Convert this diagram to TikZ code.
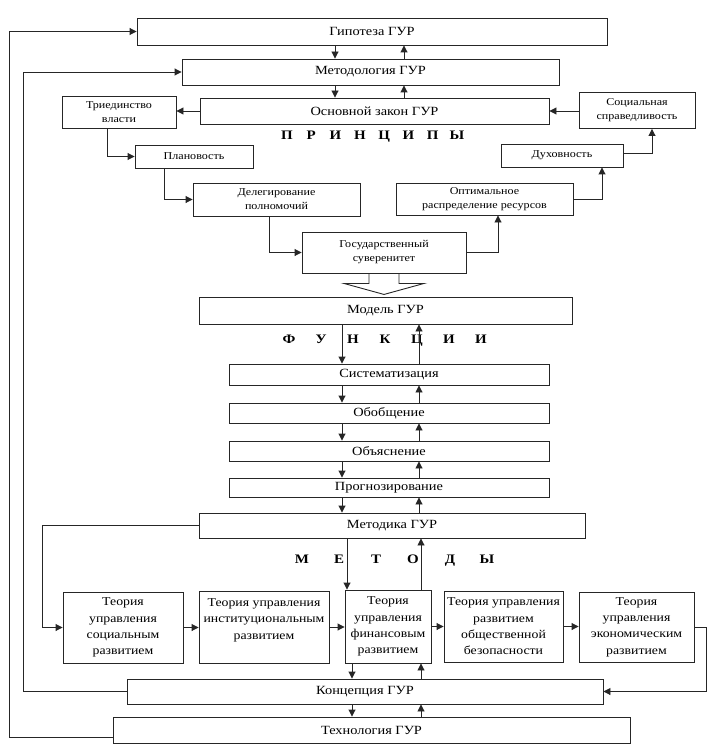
\documentclass[tikz,border=0pt]{standalone}
\usepackage{fontspec}
\setmainfont[FakeStretch=1.15]{Liberation Serif}
\usetikzlibrary{arrows.meta,calc}
\newcommand\lb[2]{\makebox[#1]{#2}}
\begin{document}
\begin{tikzpicture}[x=1pt,y=-1pt,
  bx/.style={draw=black!85, line width=0.9pt, inner sep=1pt, align=center, font=\fontsize{12.5}{14}\selectfont},
  pbx/.style={bx, font=\fontsize{10.5}{14}\selectfont},
  tbx/.style={bx, font=\fontsize{12}{16.3}\selectfont},
  arr/.style={draw=black!85, line width=0.9pt, -{Triangle[length=7pt,width=7pt]}},
  ln/.style={draw=black!85, line width=0.9pt},
  sp/.style={inner sep=0pt, font=\bfseries\fontsize{13}{15}\selectfont}]
\useasboundingbox (0,0) rectangle (715,754);
% column coordinates
\coordinate (XD1) at (335,0);
\coordinate (XU1) at (404,0);
\coordinate (XD2) at (342,0);
\coordinate (XU2) at (419,0);
\coordinate (XD3) at (347,0);
\coordinate (XU3) at (421,0);
\coordinate (XD4) at (352,0);
\coordinate (L1) at (9,0);
\coordinate (L2) at (23,0);
\coordinate (L3) at (42,0);
\coordinate (R1) at (706,0);
% boxes
\node[bx, minimum width=470pt, minimum height=27pt] (hyp) at (372,31.5) {Гипотеза ГУР};
\node[bx, minimum width=377pt, minimum height=26pt] (meth) at (370.5,72) {Методология ГУР};
\node[bx, minimum width=349pt, minimum height=26pt] (law) at (374.5,111) {Основной закон ГУР};
\node[pbx, minimum width=114pt, minimum height=32pt] (tri) at (119,112) {Триединство\\власти};
\node[pbx, minimum width=116pt, minimum height=36pt] (soc) at (637,110.5) {Социальная\\справедливость};
\node[pbx, minimum width=118pt, minimum height=23pt] (plan) at (194,156.5) {Плановость};
\node[pbx, minimum width=122pt, minimum height=23pt] (dux) at (562,155.5) {Духовность};
\node[pbx, minimum width=167pt, minimum height=33pt] (del) at (276.5,199.5) {Делегирование\\полномочий};
\node[pbx, minimum width=177pt, minimum height=32pt] (opt) at (484.5,199) {Оптимальное\\распределение ресурсов};
\node[pbx, minimum width=164pt, minimum height=41pt] (gos) at (384,252.5) {Государственный\\суверенитет};
\node[sp] (princ) at (372,137) {\lb{24.3pt}{П}\lb{24.3pt}{Р}\lb{24.3pt}{И}\lb{24.3pt}{Н}\lb{24.3pt}{Ц}\lb{24.3pt}{И}\lb{24.3pt}{П}\lb{24.3pt}{Ы}};
\node[bx, minimum width=373pt, minimum height=27pt] (model) at (385.5,310.5) {Модель ГУР};
\node[sp] (func) at (385,341) {\lb{32pt}{Ф}\lb{32pt}{У}\lb{32pt}{Н}\lb{32pt}{К}\lb{32pt}{Ц}\lb{32pt}{И}\lb{32pt}{И}};
\node[bx, minimum width=320pt, minimum height=21pt] (sys) at (389,374.5) {Систематизация};
\node[bx, minimum width=320pt, minimum height=20pt] (obo) at (389,413) {Обобщение};
\node[bx, minimum width=320pt, minimum height=20pt] (obya) at (389,451) {Объяснение};
\node[bx, minimum width=320pt, minimum height=19pt] (prog) at (389,487.5) {Прогнозирование};
\node[bx, minimum width=386pt, minimum height=25pt] (metod) at (392,525.5) {Методика ГУР};
\node[sp] (methods) at (394.5,561) {\lb{37pt}{М}\lb{37pt}{Е}\lb{37pt}{Т}\lb{37pt}{О}\lb{37pt}{Д}\lb{37pt}{Ы}};
\node[tbx, minimum width=120pt, minimum height=71pt] (t1) at (123,627.5) {Теория\\управления\\социальным\\развитием};
\node[tbx, minimum width=130pt, minimum height=72pt] (t2) at (264,627) {Теория управления\\институциональным\\развитием\\\mbox{}};
\node[tbx, minimum width=86pt, minimum height=73pt] (t3) at (388,626.5) {Теория\\управления\\финансовым\\развитием};
\node[tbx, minimum width=119pt, minimum height=71pt] (t4) at (503.5,626.5) {Теория управления\\развитием\\общественной\\безопасности};
\node[tbx, minimum width=115pt, minimum height=70pt] (t5) at (636.5,627) {Теория\\управления\\экономическим\\развитием};
\node[bx, minimum width=476pt, minimum height=25pt] (konc) at (365,691.5) {Концепция ГУР};
\node[bx, minimum width=517pt, minimum height=26pt] (tech) at (371.5,730) {Технология ГУР};
% vertical arrow pairs
\draw[arr] (hyp.south -| XD1) -- (meth.north -| XD1);
\draw[arr] (meth.north -| XU1) -- (hyp.south -| XU1);
\draw[arr] (meth.south -| XD1) -- (law.north -| XD1);
\draw[arr] (law.north -| XU1) -- (meth.south -| XU1);
\draw[arr] (model.south -| XD2) -- (sys.north -| XD2);
\draw[arr] (sys.north -| XU2) -- (model.south -| XU2);
\draw[arr] (sys.south -| XD2) -- (obo.north -| XD2);
\draw[arr] (obo.north -| XU2) -- (sys.south -| XU2);
\draw[arr] (obo.south -| XD2) -- (obya.north -| XD2);
\draw[arr] (obya.north -| XU2) -- (obo.south -| XU2);
\draw[arr] (obya.south -| XD2) -- (prog.north -| XD2);
\draw[arr] (prog.north -| XU2) -- (obya.south -| XU2);
\draw[arr] (prog.south -| XD2) -- (metod.north -| XD2);
\draw[arr] (metod.north -| XU2) -- (prog.south -| XU2);
\draw[arr] (metod.south -| XD3) -- (t3.north -| XD3);
\draw[arr] (t3.north -| XU3) -- (metod.south -| XU3);
\draw[arr] (t3.south -| XD4) -- (konc.north -| XD4);
\draw[arr] (konc.north -| XU3) -- (t3.south -| XU3);
\draw[arr] (konc.south -| XD4) -- (tech.north -| XD4);
\draw[arr] (tech.north -| XU3) -- (konc.south -| XU3);
% principles chain
\draw[arr] (law.west) -- (law.west -| tri.east);
\draw[arr] ([xshift=-12pt]tri.south) |- (plan.west);
\draw[arr] ([xshift=-30pt]plan.south) |- (del.west);
\draw[arr] ([xshift=-7.5pt]del.south) |- (gos.west);
\draw[arr] (gos.east) -| ([xshift=13.5pt]opt.south);
\draw[arr] (opt.east) -| ([xshift=40pt]dux.south);
\draw[arr] ([yshift=2pt]dux.east) -| ([xshift=15pt]soc.south);
\draw[arr] (soc.west |- law.east) -- (law.east);
% block arrow
\draw[ln] ($(gos.south)+(-15,0)$) -- ++(0,10) -- ++(-25,0) -- ($(gos.south)+(0,21)$) -- ($(gos.south)+(40,10)$) -- ++(-25,0) -- ++(0,-10);
% theory chain
\draw[arr] (t1.east) -- (t1.east -| t2.west);
\draw[arr] (t2.east) -- (t2.east -| t3.west);
\draw[arr] (t3.east) -- (t3.east -| t4.west);
\draw[arr] (t4.east) -- (t4.east -| t5.west);
% loops
\draw[arr] (metod.west) -| (L3 |- t1.west) -- (t1.west);
\draw[arr] (t5.east) -| (R1 |- konc.east) -- (konc.east);
\draw[arr] (konc.west) -| (L2 |- meth.west) -- (meth.west);
\draw[arr] ([yshift=-7pt]tech.west) -| (L1 |- hyp.west) -- (hyp.west);
\end{tikzpicture}
\end{document}
